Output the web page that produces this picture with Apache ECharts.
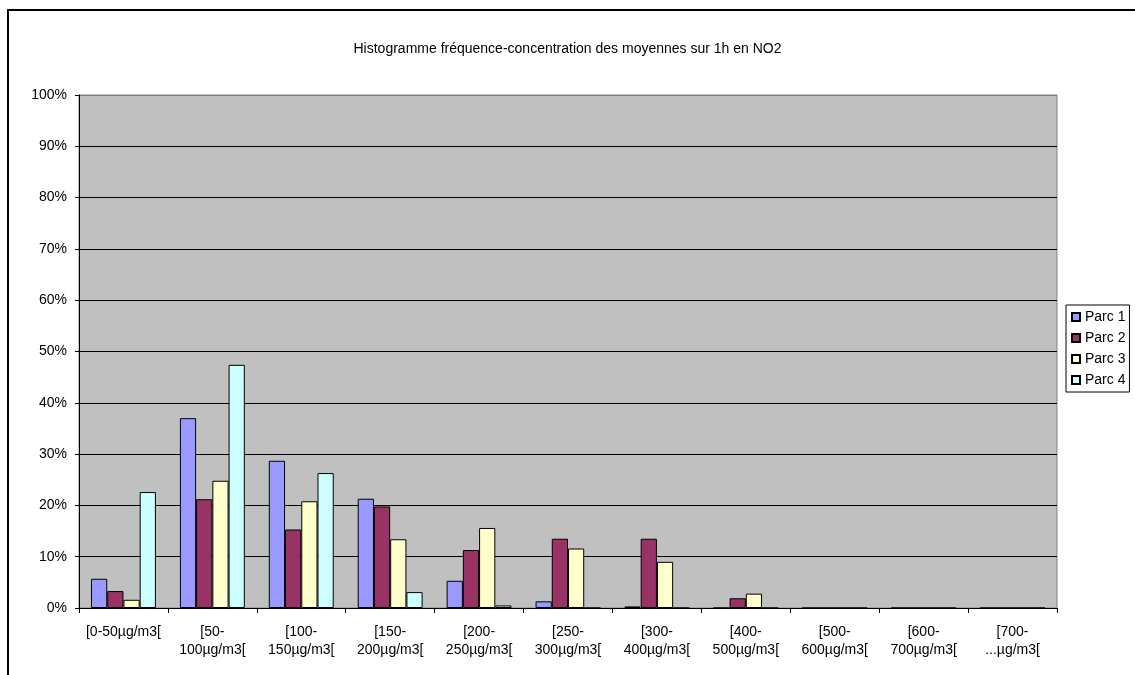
<!DOCTYPE html>
<html>
<head>
<meta charset="utf-8">
<title>Histogramme NO2</title>
<script src="https://cdn.jsdelivr.net/npm/echarts@6/dist/echarts.min.js"></script>
<style>
  html, body { margin: 0; padding: 0; background: #ffffff; }
  #chart { width: 1135px; height: 675px; }
</style>
</head>
<body>
<div id="chart"></div>
<script>
// Concentration classes (hourly NO2 averages)
const categories = [
  '[0-50µg/m3[',
  '[50-\n100µg/m3[',
  '[100-\n150µg/m3[',
  '[150-\n200µg/m3[',
  '[200-\n250µg/m3[',
  '[250-\n300µg/m3[',
  '[300-\n400µg/m3[',
  '[400-\n500µg/m3[',
  '[500-\n600µg/m3[',
  '[600-\n700µg/m3[',
  '[700-\n...µg/m3['
];

// Frequency (%) of hourly averages per class, one array per site
const parc1 = [5.7, 37.0, 28.7, 21.3, 5.3, 1.3, 0.3, 0, 0, 0, 0];
const parc2 = [3.3, 21.2, 15.3, 19.8, 11.3, 13.5, 13.5, 1.9, 0, 0, 0];
const parc3 = [1.6, 24.8, 20.8, 13.4, 15.6, 11.6, 9.0, 2.8, 0, 0, 0];
const parc4 = [22.6, 47.4, 26.3, 3.1, 0.5, 0, 0, 0, 0, 0, 0];

const seriesNames = ['Parc 1', 'Parc 2', 'Parc 3', 'Parc 4'];
const seriesColors = ['#9999FF', '#993366', '#FFFFCC', '#CCFFFF'];
const seriesData = [parc1, parc2, parc3, parc4];

const FONT = '"Liberation Sans", Arial, sans-serif';
const FONT_SIZE = 14;

const chart = echarts.init(document.getElementById('chart'), null, { renderer: 'canvas' });

// split line colours: black inside the plot, grey along its top edge
const splitColors = [];
for (let i = 0; i <= 10; i++) splitColors.push(i === 10 ? '#808080' : '#000000');

chart.setOption({
  animation: false,
  backgroundColor: '#ffffff',
  textStyle: { fontFamily: FONT },
  graphic: [{
    type: 'rect',
    silent: true,
    shape: { x: 8, y: 10, width: 1200, height: 700 },
    style: { fill: 'none', stroke: '#000000', lineWidth: 2 },
    z: -1
  }],
  title: {
    text: 'Histogramme fréquence-concentration des moyennes sur 1h en NO2',
    left: 'center',
    top: 37,
    textStyle: { fontFamily: FONT, fontSize: FONT_SIZE, fontWeight: 'normal', color: '#000000' }
  },
  legend: {
    orient: 'vertical',
    left: 1066,
    top: 305,
    data: seriesNames,
    icon: 'rect',
    itemWidth: 8,
    itemHeight: 8,
    itemGap: 5,
    itemTextGap: 6,
    padding: [4, 4, 4, 5],
    borderColor: '#000000',
    borderWidth: 1,
    backgroundColor: '#ffffff',
    textStyle: { fontFamily: FONT, fontSize: FONT_SIZE, color: '#000000', lineHeight: 16 }
  },
  grid: {
    left: 79,
    right: 78,
    top: 95,
    bottom: 67,
    show: true,
    backgroundColor: '#C0C0C0',
    borderColor: '#808080',
    borderWidth: 1
  },
  xAxis: {
    type: 'category',
    data: categories,
    axisLine: { show: true, lineStyle: { color: '#000000', width: 1 } },
    axisTick: { show: true, alignWithLabel: false, length: 5, lineStyle: { color: '#000000' } },
    axisLabel: {
      interval: 0,
      margin: 15,
      fontFamily: FONT,
      fontSize: FONT_SIZE,
      color: '#000000',
      lineHeight: 18,
      align: 'center'
    }
  },
  yAxis: {
    type: 'value',
    min: 0,
    max: 100,
    interval: 10,
    axisLine: { show: true, lineStyle: { color: '#000000', width: 1 } },
    axisTick: { show: true, length: 4, lineStyle: { color: '#000000' } },
    axisLabel: {
      formatter: '{value}%',
      margin: 12,
      fontFamily: FONT,
      fontSize: FONT_SIZE,
      color: '#000000'
    },
    splitLine: { show: true, lineStyle: { color: splitColors, width: 1 } }
  },
  series: seriesData.map((data, i) => ({
    name: seriesNames[i],
    type: 'bar',
    data: data,
    barGap: '0%',
    barCategoryGap: '27%',
    itemStyle: { color: seriesColors[i], borderColor: '#000000', borderWidth: 1 }
  }))
});
</script>
</body>
</html>
